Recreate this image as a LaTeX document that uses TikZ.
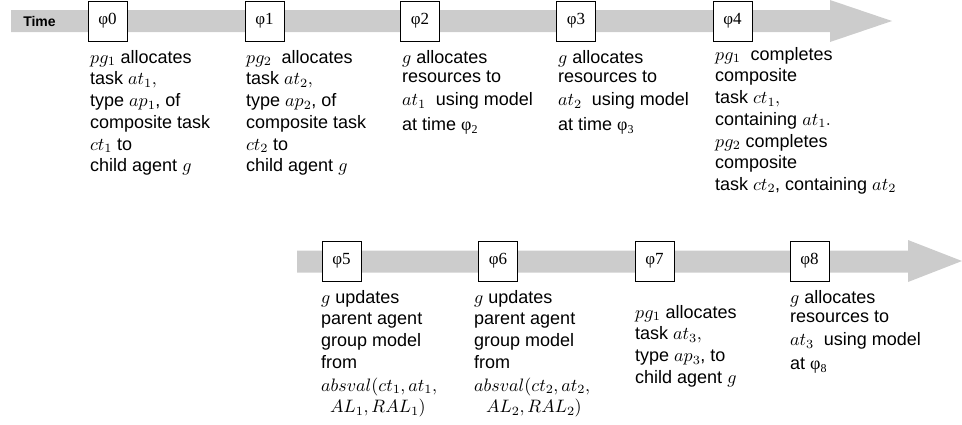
\documentclass[tikz,border=0pt]{standalone}
\usepackage[no-math]{fontspec}
\setmainfont{Liberation Sans}
\newfontfamily\timesfont{Liberation Serif}
% math letters from the 10pt design, scaled freely
\DeclareFontFamily{OML}{cmm}{\skewchar\font127 }
\DeclareFontShape{OML}{cmm}{m}{it}{<->cmmi10}{}
\DeclareFontShape{OML}{cmm}{b}{it}{<->cmmib10}{}
\DeclareFontFamily{OT1}{cmr}{\hyphenchar\font45 }
\DeclareFontShape{OT1}{cmr}{m}{n}{<-13>cmr7<13->cmr10}{}
\definecolor{bandgray}{RGB}{204,204,204}
% serif phi with a lowered index, as used inside the notes
\newcommand\phisub[1]{{\timesfont φ}\raisebox{-3.5pt}{\timesfont\fontsize{12}{12}\selectfont #1}}
% first-line strut so that every note starts from the same baseline
\newcommand\fs{\rule{0pt}{15pt}}

\begin{document}
\begin{tikzpicture}[x=1pt,y=-1pt,
  tick/.style={draw=black, line width=0.8pt, fill=white,
    minimum width=39pt, minimum height=40pt, inner sep=0pt,
    font=\timesfont\fontsize{17}{17}\selectfont},
  note/.style={anchor=north west, inner sep=0pt, align=left,
    font=\fontsize{18}{21.7}\selectfont},
]
\useasboundingbox (0,0) rectangle (962,424);

% time arrows
\fill[bandgray] (11,10) -- (830,10) -- (830,0) -- (892,21) -- (830,42)
  -- (830,32) -- (11,32) -- cycle;
\fill[bandgray] (297,250.5) -- (908,250.5) -- (908,240) -- (962,261)
  -- (908,282) -- (908,272.5) -- (297,272.5) -- cycle;

\node[font=\bfseries\fontsize{14}{14}\selectfont] (time) at (39.5,21) {Time};

% time points
\node[tick] (t0) at (107.5,21) {φ0};
\node[tick] (t1) at (264.5,21) {φ1};
\node[tick] (t2) at (420,21) {φ2};
\node[tick] (t3) at (576,21) {φ3};
\node[tick] (t4) at (732.5,21) {φ4};
\node[tick] (t5) at (341.5,261) {φ5};
\node[tick] (t6) at (498,261) {φ6};
\node[tick] (t7) at (654.5,261) {φ7};
\node[tick] (t8) at (809.5,261) {φ8};

% events
\node[note] (n0) at (90,48) {\fs$pg_1$ allocates\\task $at_1,$\\type $ap_1$, of\\composite task\\$ct_1$ to\\child agent $g$};
\node[note] (n1) at (246,48) {\fs$pg_2$\ \ allocates\\task $at_2,$\\type $ap_2$, of\\composite task\\$ct_2$ to\\child agent $g$};
\node[note] (n2) at (402,48) {\fs$g$ allocates\\[-2pt]resources to\\[1pt]$at_1$\ \ using model\\[3pt]at time \phisub{2}};
\node[note] (n3) at (558,48) {\fs$g$ allocates\\[-2pt]resources to\\[1pt]$at_2$\ \ using model\\[3pt]at time \phisub{3}};
\node[note] (n4) at (715,45) {\fs$pg_1$\ \ completes\\composite\\task $ct_1,$\\containing $at_1.$\\$pg_2$ completes\\composite\\task $ct_2$, containing $at_2$};
\node[note] (n5) at (321,288) {\fs$g$ updates\\parent agent\\group model\\from\\[1pt]$absval(ct_1,at_1,$\\\hspace*{9pt}$AL_1,RAL_1)$};
\node[note] (n6) at (474,288) {\fs$g$ updates\\parent agent\\group model\\from\\[1pt]$absval(ct_2,at_2,$\\\hspace*{12pt}$AL_2,RAL_2)$};
\node[note] (n7) at (635,303) {\fs$pg_1$ allocates\\task $at_3,$\\type $ap_3$, to\\child agent $g$};
\node[note] (n8) at (790,288) {\fs$g$ allocates\\[-2pt]resources to\\[1pt]$at_3$\ \ using model\\[2pt]at \phisub{8}};
\end{tikzpicture}
\end{document}
